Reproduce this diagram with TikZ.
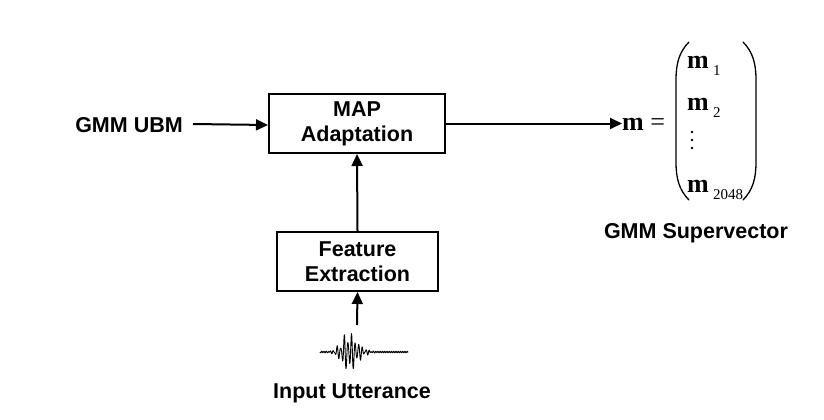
\documentclass[tikz,border=0pt]{standalone}
\usepackage{fontspec}
\setmainfont{Liberation Sans}
\newfontfamily\serifm{Liberation Serif}
\usetikzlibrary{arrows.meta}
\tikzset{
  lbl/.style={font=\bfseries\fontsize{21.5}{25}\selectfont, align=center, inner sep=0pt},
  blk/.style={draw, line width=2pt, minimum width=#1, minimum height=59pt, inner sep=0pt, lbl},
  arr/.style={line width=2pt, -{Triangle[length=12pt,width=11pt]}},
  ent/.style={anchor=base west, inner sep=0pt, font=\serifm\fontsize{26}{30}\selectfont},
  paren/.style={line width=1.3pt, line cap=round},
  vdot/.style={fill, circle, inner sep=0pt, minimum size=2.6pt},
}
\newcommand{\subx}[1]{\,\raisebox{-7pt}{\fontsize{15}{15}\selectfont\mdseries #1}}
\begin{document}
\begin{tikzpicture}[x=1pt,y=-1pt]
\useasboundingbox (0,0) rectangle (824,420);
\node[blk=176pt] (map) at (357,123.5) {MAP\\Adaptation};
\node[blk=161pt] (fe) at (357.5,261.5) {Feature\\Extraction};
\node[lbl] (ubm) at (129,125) {GMM UBM};
\coordinate (ubmr) at (193,124);
\draw[arr] (ubmr) -- (ubm -| map.west);
\draw[arr] (fe.north) -- (map.south);
\node[ent] (meq) at (622,130) {\textbf{m} =};
\draw[arr] (map.east) -- (meq.west |- map.east);
% parentheses
\draw[paren] (689,42) .. controls (679,52) and (676,64) .. (676,80) -- (676,162)
  .. controls (676,178) and (679,190) .. (689,200);
\draw[paren] (743,42) .. controls (753,52) and (756,64) .. (756,80) -- (756,162)
  .. controls (756,178) and (753,190) .. (743,200);
\node[ent] (m1) at (687,68) {\textbf{m}\subx{1}};
\node[ent] (m2) at (687,110) {\textbf{m}\subx{2}};
\node[vdot] (d1) at (692,132) {};
\node[vdot] (d2) at (692,140) {};
\node[vdot] (d3) at (692,148) {};
\node[ent] (m3) at (687,192) {\textbf{m}\subx{2048}};
\node[lbl] (sv) at (696,233) {GMM Supervector};
% waveform
\draw[line width=0.9pt, line join=round] plot[domain=0:88, samples=300, smooth]
  ({320+\x}, {352 + 20*exp(-((\x-32)/12)^2)*(1+0.35*tanh((32-\x)/6))*(0.7+0.3*sin(47*\x))*sin(100*\x) + 0.8*sin(160*\x)});
\coordinate (wt) at (357,325);
\draw[arr] (wt) -- (fe.south);
\node[lbl] (iu) at (352,393) {Input Utterance};
\end{tikzpicture}
\end{document}
